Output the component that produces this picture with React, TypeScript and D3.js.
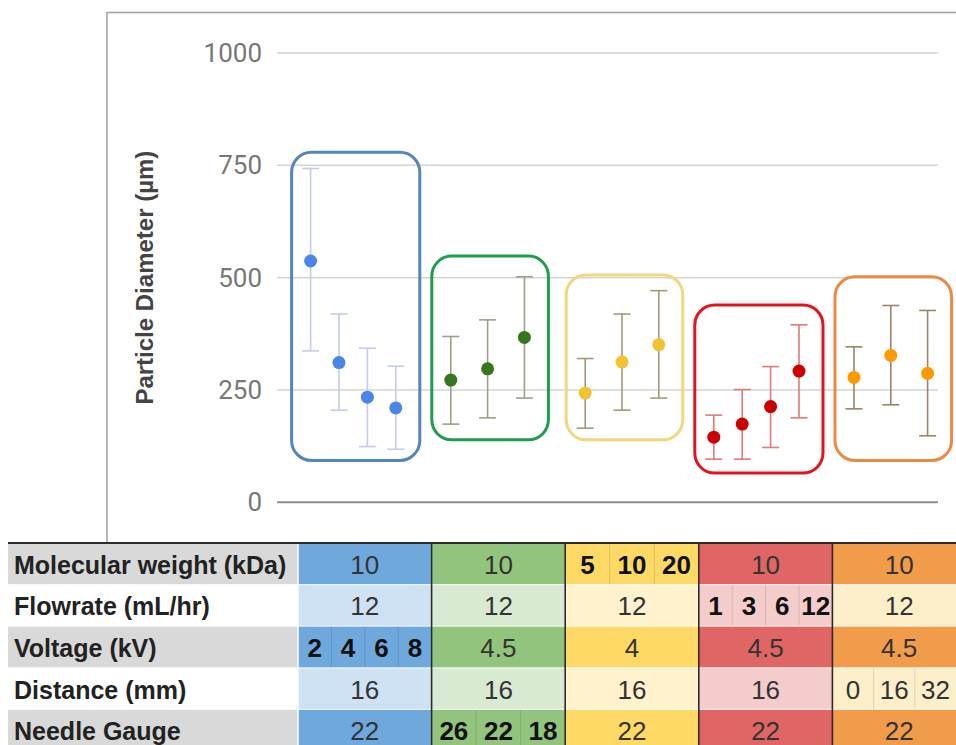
import React from "react";
import * as d3 from "d3";

// ---------- DATA ----------
const groupNames = ["Voltage", "Needle Gauge", "Molecular weight", "Flowrate", "Distance"];
const pointGroup = [0, 0, 0, 0, 1, 1, 1, 2, 2, 2, 3, 3, 3, 3, 4, 4, 4];
const meanValues = [537, 311, 234, 210, 272, 297, 367, 243, 312, 351, 145, 174, 213, 292, 278, 327, 287];
const lowValues = [337, 205, 124, 118, 174, 188, 232, 165, 205, 232, 96, 96, 122, 188, 208, 217, 148];
const highValues = [743, 419, 343, 303, 369, 406, 502, 320, 419, 471, 194, 251, 302, 395, 346, 438, 427];
const boxLowValues = [93, 139, 139, 65, 93];
const boxHighValues = [779, 548, 506, 439, 502];
const yTicks = [0, 250, 500, 750, 1000];
const yTitle = "Particle Diameter (µm)";

const rowLabels = ["Molecular weight (kDa)", "Flowrate (mL/hr)", "Voltage (kV)", "Distance (mm)", "Needle Gauge"];
const blueCells = [["10"], ["12"], ["2", "4", "6", "8"], ["16"], ["22"]];
const greenCells = [["10"], ["12"], ["4.5"], ["16"], ["26", "22", "18"]];
const yellowCells = [["5", "10", "20"], ["12"], ["4"], ["16"], ["22"]];
const redCells = [["10"], ["1", "3", "6", "12"], ["4.5"], ["16"], ["22"]];
const orangeCells = [["10"], ["12"], ["4.5"], ["0", "16", "32"], ["22"]];
const varyingBold = [true, true, true, true, false];

// ---------- STYLE ----------
const dotColors = ["#4a86e8", "#38761d", "#f1c232", "#cc0000", "#ff9900"];
const errColors = ["#c3cbef", "#a09e8c", "#a8987a", "#e27a7a", "#9c8468"];
const boxColors = ["#5585c0", "#1f9d4c", "#f3d67e", "#e3141d", "#ec8a45"];
const darkCellColors = ["#6fa8dc", "#93c47d", "#ffd966", "#e06666", "#f19c4a"];
const lightCellColors = ["#cfe2f3", "#d9ead3", "#fff2cc", "#f4cccc", "#fdefc9"];
const labelFont = "'Liberation Sans', Arial, sans-serif";

const W = 956;
const H = 745;

export default function App() {
  const y = d3.scaleLinear().domain([0, 1000]).range([502.3, 53]);
  const gx = d3.scaleBand<number>().domain(d3.range(groupNames.length)).range([291, 953]).paddingInner(0.0744).paddingOuter(0);
  const gridX0 = 277;
  const gridX1 = 938;

  const idxInGroup: number[] = [];
  const groupCounts = groupNames.map(() => 0);
  pointGroup.forEach((g, i) => {
    idxInGroup[i] = groupCounts[g];
    groupCounts[g] += 1;
  });
  const inner = groupCounts.map((n) =>
    d3.scalePoint<number>().domain(d3.range(n)).range([0, gx.bandwidth()]).padding(0.69)
  );
  const px = (i: number) => (gx(pointGroup[i]) as number) + (inner[pointGroup[i]](idxInGroup[i]) as number);

  const capW = 17;

  // table
  const tableTop = 543;
  const rowH = 41.6;
  const tableLeft = 8;
  const labelRight = 298;
  const colX = d3.scaleBand<number>().domain(d3.range(groupNames.length)).range([labelRight, 966]);
  const columns = [blueCells, greenCells, yellowCells, redCells, orangeCells];

  return (
    <div style={{ position: "absolute", left: 0, top: 0, width: W, height: H, background: "#fff" }}>
      <svg width={W} height={H} style={{ display: "block" }}>
        <rect x={0} y={0} width={W} height={H} fill="#fff" />
        {/* chart frame */}
        <line x1={107} x2={W} y1={12.5} y2={12.5} stroke="#a0a0a0" strokeWidth={1.5} />
        <line x1={107} x2={107} y1={12} y2={tableTop} stroke="#a0a0a0" strokeWidth={1.5} />

        {/* gridlines */}
        {yTicks.map((t) => (
          <g key={t}>
            <line
              x1={gridX0}
              x2={gridX1}
              y1={y(t)}
              y2={y(t)}
              stroke={t === 0 ? "#8f8f8f" : "#d4d4d4"}
              strokeWidth={t === 0 ? 2 : 1.5}
            />
            <text
              x={262}
              y={y(t)}
              textAnchor="end"
              dominantBaseline="central"
              fontFamily="Roboto, Arial, sans-serif"
              fontSize={26}
              fill="#777"
            >
              {t}
            </text>
          </g>
        ))}

        {/* y title */}
        <text
          transform={`translate(153, ${(y(0) + y(1000)) / 2}) rotate(-90)`}
          textAnchor="middle"
          fontFamily={labelFont}
          fontWeight="bold"
          fontSize={24}
          fill="#444"
        >
          {yTitle}
        </text>

        {/* group boxes */}
        {groupNames.map((name, g) => {
          const ids = pointGroup.map((pg, i) => (pg === g ? i : -1)).filter((i) => i >= 0);
          const x0 = px(ids[0]) - 19;
          const x1 = px(ids[ids.length - 1]) + 24;
          const y0 = y(boxHighValues[g]);
          const y1 = y(boxLowValues[g]);
          return (
            <rect
              key={name}
              x={x0}
              y={y0}
              width={x1 - x0}
              height={y1 - y0}
              rx={20}
              ry={20}
              fill="none"
              stroke={boxColors[g]}
              strokeWidth={3}
            />
          );
        })}

        {/* error bars and points */}
        {meanValues.map((m, i) => {
          const g = pointGroup[i];
          const x = px(i);
          return (
            <g key={i}>
              <line x1={x} x2={x} y1={y(highValues[i])} y2={y(lowValues[i])} stroke={errColors[g]} strokeWidth={1.6} />
              <line x1={x - capW / 2} x2={x + capW / 2} y1={y(highValues[i])} y2={y(highValues[i])} stroke={errColors[g]} strokeWidth={1.6} />
              <line x1={x - capW / 2} x2={x + capW / 2} y1={y(lowValues[i])} y2={y(lowValues[i])} stroke={errColors[g]} strokeWidth={1.6} />
              <circle cx={x} cy={y(m)} r={6.5} fill={dotColors[g]} />
            </g>
          );
        })}

        {/* table */}
        {rowLabels.map((label, r) => {
          const ry = tableTop + r * rowH;
          return (
            <g key={label}>
              <rect x={tableLeft} y={ry} width={labelRight - tableLeft} height={rowH} fill={r % 2 === 0 ? "#d9d9d9" : "#ffffff"} />
              <text
                x={14}
                y={ry + rowH / 2 + 1}
                dominantBaseline="central"
                fontFamily={labelFont}
                fontWeight="bold"
                fontSize={25}
                fill="#222"
              >
                {label}
              </text>
              {columns.map((col, c) => {
                const cx0 = colX(c) as number;
                const cw = colX.bandwidth();
                const vals = col[r];
                const multi = vals.length > 1;
                const sub = d3
                  .scaleBand<number>()
                  .domain(d3.range(vals.length))
                  .range([cx0, multi ? Math.min(cx0 + cw, W) : cx0 + cw]);
                return (
                  <g key={c}>
                    <rect x={cx0} y={ry} width={cw} height={rowH} fill={r % 2 === 0 ? darkCellColors[c] : lightCellColors[c]} />
                    {vals.map((v, k) => (
                      <g key={k}>
                        {k > 0 && (
                          <line
                            x1={sub(k) as number}
                            x2={sub(k) as number}
                            y1={ry}
                            y2={ry + rowH}
                            stroke="rgba(0,0,0,0.12)"
                            strokeWidth={1}
                          />
                        )}
                        <text
                          x={(sub(k) as number) + sub.bandwidth() / 2}
                          y={ry + rowH / 2 + 1}
                          textAnchor="middle"
                          dominantBaseline="central"
                          fontFamily={labelFont}
                          fontWeight={multi && varyingBold[c] ? "bold" : "normal"}
                          fontSize={26}
                          fill={multi && varyingBold[c] ? "#111" : "#333"}
                        >
                          {v}
                        </text>
                      </g>
                    ))}
                  </g>
                );
              })}
              {r > 0 && <line x1={tableLeft} x2={W} y1={ry} y2={ry} stroke="rgba(255,255,255,0.7)" strokeWidth={1.2} />}
            </g>
          );
        })}
        {/* column borders */}
        <line x1={labelRight} x2={labelRight} y1={tableTop} y2={H} stroke="#ffffff" strokeWidth={1.5} />
        {groupNames.slice(1).map((n, c) => (
          <line
            key={n}
            x1={colX(c + 1) as number}
            x2={colX(c + 1) as number}
            y1={tableTop}
            y2={H}
            stroke="#2b2b2b"
            strokeWidth={1.6}
          />
        ))}
        <line x1={tableLeft} x2={W} y1={tableTop} y2={tableTop} stroke="#2b2b2b" strokeWidth={2} />
      </svg>
    </div>
  );
}
